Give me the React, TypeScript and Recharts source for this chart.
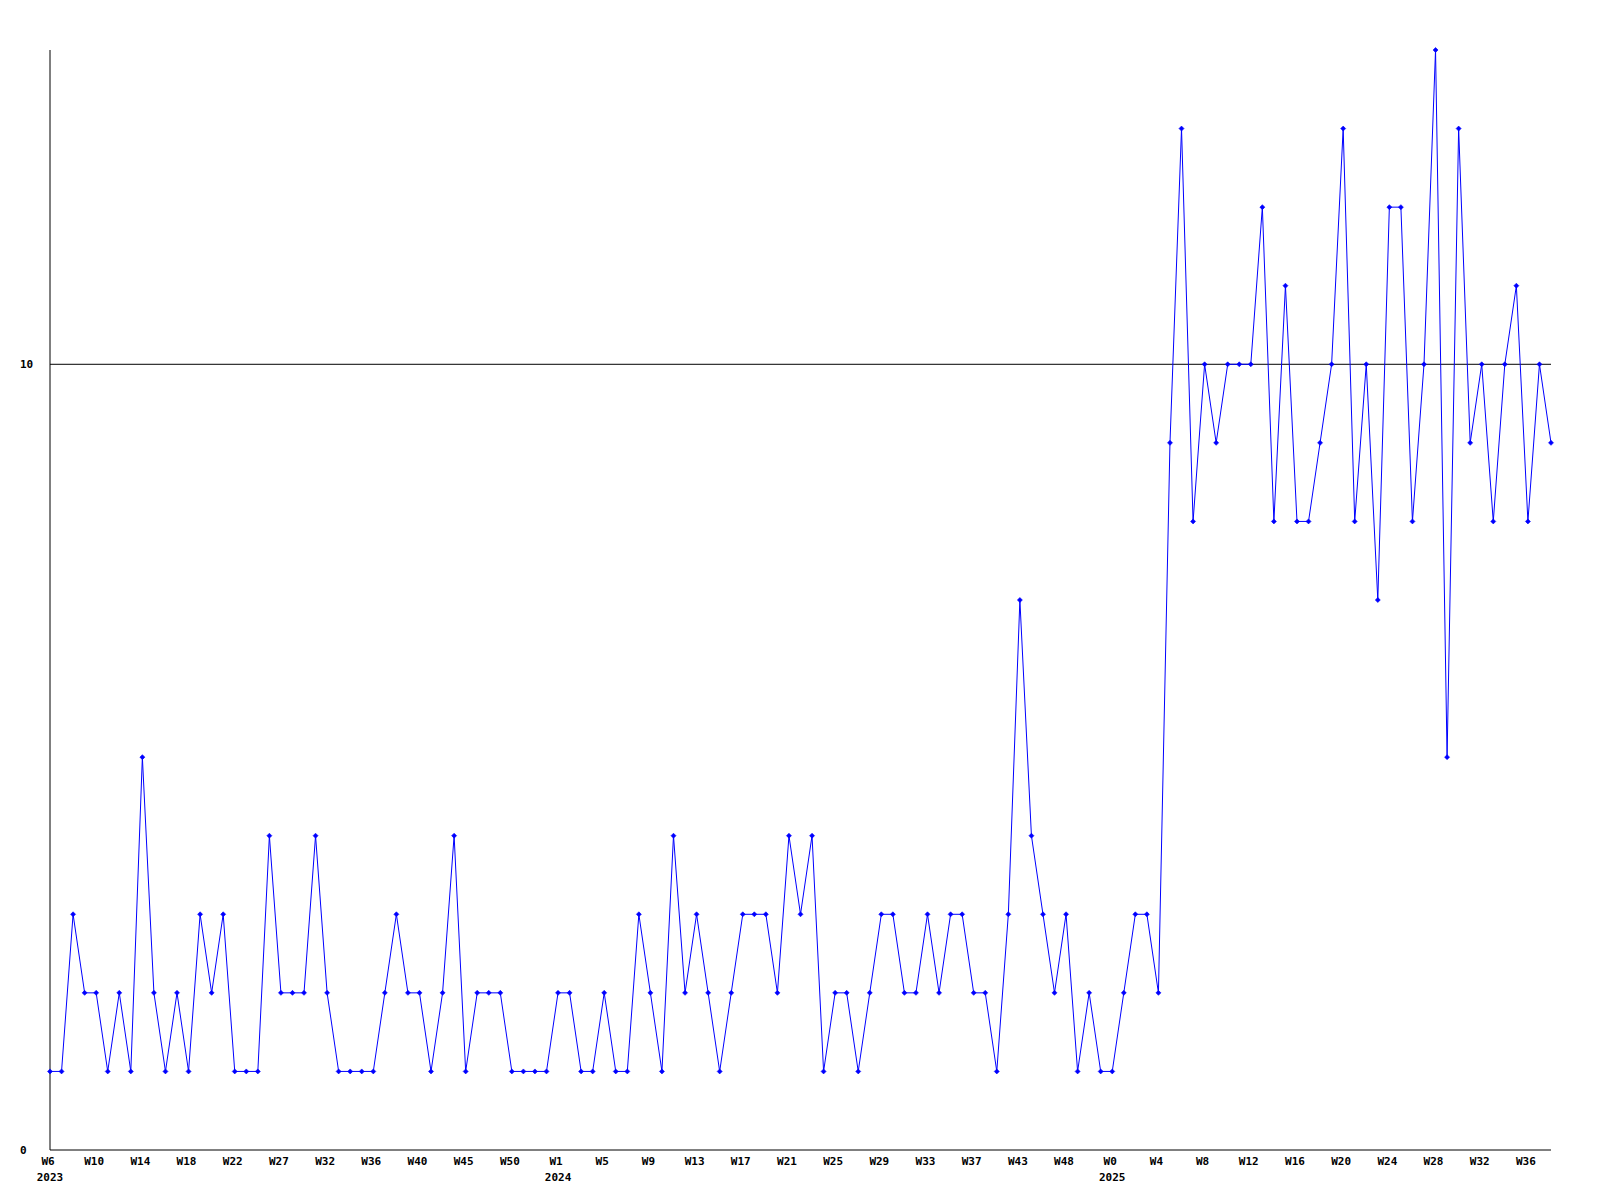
import { LineChart, Line, XAxis, YAxis, ReferenceLine } from 'recharts'

// week numbers per year, in the order they appear on the axis
const weeks2023 = [6, 7, 8, 9, 10, 11, 12, 13, 14, 15, 16, 17, 18, 19, 20, 21, 22, 23, 24, 25, 27, 28, 29, 31, 32, 33, 34, 35, 36, 37, 38, 39, 40, 41, 43, 44, 45, 46, 47, 49, 50, 51, 52]
const weeks2024 = [0, 1, 2, 3, 4, 5, 6, 7, 8, 9, 10, 11, 12, 13, 14, 15, 16, 17, 18, 19, 20, 21, 22, 23, 24, 25, 26, 27, 28, 29, 30, 31, 32, 33, 34, 35, 36, 37, 38, 40, 41, 43, 44, 45, 47, 48, 49, 50, 52]
const weeks2025 = [0, 1, 2, 3, 4, 5, 6, 7, 8, 9, 10, 11, 12, 13, 14, 15, 16, 17, 18, 19, 20, 21, 22, 23, 24, 25, 26, 27, 28, 29, 30, 31, 32, 33, 34, 35, 36, 37, 38]

const counts = [
    1, 1, 3, 2, 2, 1, 2, 1, 5, 2, 1, 2, 1, 3, 2, 3, 1, 1, 1, 4, 2, 2, 2, 4, 2, 1,
    1, 1, 1, 2, 3, 2, 2, 1, 2, 4, 1, 2, 2, 2, 1, 1, 1, 1, 2, 2, 1, 1, 2, 1,
    1, 3, 2, 1, 4, 2, 3, 2, 1, 2, 3, 3, 3, 2, 4, 3, 4, 1, 2, 2, 1, 2, 3, 3,
    2, 2, 3, 2, 3, 3, 2, 2, 1, 3, 7, 4, 3, 2, 3, 1, 2, 1, 1, 2, 3, 3, 2,
    9, 13, 8, 10, 9, 10, 10, 10, 12, 8, 11, 8, 8, 9, 10, 13, 8, 10, 7, 12, 12, 8, 10, 14, 5, 13, 9, 10, 8, 10, 11, 8, 10, 9,
]

const yTicks = [0, 10]
const yearStarts = ['2023-W6', '2024-W1', '2025-W0']

const keys = [
    ...weeks2023.map((w) => `2023-W${w}`),
    ...weeks2024.map((w) => `2024-W${w}`),
    ...weeks2025.map((w) => `2025-W${w}`),
]

const data = keys.map((key, i) => ({ key, value: counts[i] }))

const font = { fontFamily: '"DejaVu Sans Mono", monospace', fontWeight: 'bold' as const, fontSize: 11 }

function WeekTick(props: any) {
    const { x, y, payload } = props
    const [year, week] = String(payload.value).split('-')
    const showYear = yearStarts.includes(payload.value)
    return (
        <g>
            <text x={x - 2} y={y + 15} textAnchor="middle" fill="#000" {...font}>
                {week}
            </text>
            {showYear && (
                <text x={x} y={y + 31} textAnchor="middle" fill="#000" {...font}>
                    {year}
                </text>
            )}
        </g>
    )
}

function CountTick(props: any) {
    const { y, payload } = props
    return (
        <text x={20} y={y + 4} textAnchor="start" fill="#000" {...font}>
            {payload.value}
        </text>
    )
}

function Marker(props: any) {
    const { cx, cy, index } = props
    if (cx == null || cy == null) return <g key={index} />
    const r = 2.5
    return (
        <path
            key={index}
            d={`M${cx},${cy - r}L${cx + r},${cy}L${cx},${cy + r}L${cx - r},${cy}Z`}
            fill="#0000ff"
            stroke="#0000ff"
            strokeWidth={0.6}
        />
    )
}

export default function App() {
    return (
        <div style={{ position: 'absolute', left: 0, top: 0, width: 1600, height: 1200, background: '#fff' }}>
            <LineChart width={1600} height={1200} data={data} margin={{ top: 50, right: 49, bottom: 0, left: 0 }}>
                <XAxis
                    dataKey="key"
                    interval={3}
                    height={50}
                    tickLine={false}
                    tickSize={0}
                    tickMargin={0}
                    axisLine={{ stroke: '#000', strokeWidth: 1 }}
                    tick={<WeekTick />}
                />
                <YAxis
                    type="number"
                    domain={[0, 14]}
                    ticks={yTicks}
                    width={50}
                    tickLine={false}
                    axisLine={{ stroke: '#000', strokeWidth: 1 }}
                    tick={<CountTick />}
                />
                <ReferenceLine y={10} stroke="#000" strokeWidth={1} />
                <Line
                    type="linear"
                    dataKey="value"
                    stroke="#0000ff"
                    strokeWidth={1}
                    dot={Marker}
                    activeDot={false}
                    isAnimationActive={false}
                />
            </LineChart>
        </div>
    )
}
